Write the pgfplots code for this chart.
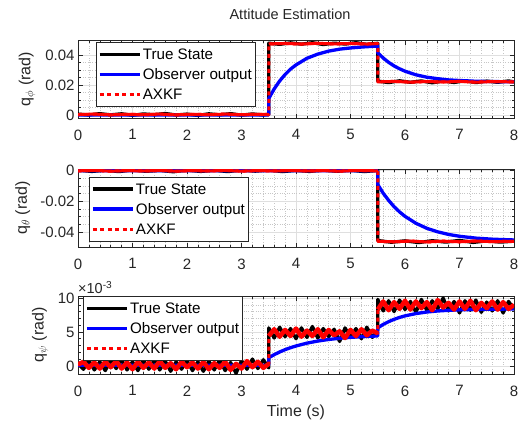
\documentclass[border=0pt]{standalone}
\usepackage{fontspec}
\setmainfont{Liberation Sans}
\usepackage{pgfplots}
\usepackage{pgfplotstable}
\pgfplotsset{compat=1.18}

\definecolor{axgray}{RGB}{38,38,38}

% q_phi
\pgfplotstableread{
t y
0 0.0006
0.2 0.0000
0.4 0.0009
0.6 0.0001
0.8 0.0008
1.0 -0.0002
1.2 0.0007
1.4 0.0002
1.6 0.0010
1.8 0.0000
2.0 0.0006
2.2 -0.0003
2.4 0.0008
2.6 0.0001
2.8 0.0009
3.0 -0.0001
3.2 0.0007
3.4 0.0000
3.5 0.0005
3.5 0.0479
3.7 0.0471
3.9 0.0481
4.1 0.0472
4.3 0.0482
4.5 0.0470
4.7 0.0479
4.9 0.0473
5.1 0.0482
5.3 0.0471
5.5 0.0478
5.5 0.0226
5.7 0.0216
5.9 0.0228
6.1 0.0218
6.3 0.0227
6.5 0.0215
6.7 0.0226
6.9 0.0217
7.1 0.0228
7.3 0.0216
7.5 0.0226
7.7 0.0218
7.9 0.0227
8.0 0.0221
}\phiTrue
\pgfplotstableread{
t y
0 0
3.5 0
3.5 0.011
3.6 0.0174
3.7 0.0227
3.8 0.0270
3.9 0.0306
4.0 0.0334
4.2 0.0378
4.4 0.0406
4.6 0.0426
4.8 0.0439
5.0 0.0447
5.2 0.0453
5.5 0.0460
5.5 0.0415
5.6 0.0380
5.7 0.0351
5.8 0.0327
5.9 0.0308
6.0 0.0292
6.2 0.0268
6.4 0.0252
6.6 0.0242
6.8 0.0234
7.0 0.0230
7.3 0.0225
7.6 0.0223
8.0 0.0221
}\phiObs
\pgfplotstableread{
t y ys
0 0.0003 0.0003
0.3 0.0006 0.0006
0.6 0.0001 0.0001
0.9 0.0005 0.0005
1.2 0.0002 0.0002
1.5 0.0006 0.0006
1.8 0.0001 0.0001
2.1 0.0005 0.0005
2.4 0.0002 0.0002
2.7 0.0006 0.0006
3.0 0.0002 0.0002
3.3 0.0005 0.0005
3.5 0.0003 0.0003
3.5 0.024 nan
3.5 0.0474 0.0474
3.8 0.0477 0.0477
4.1 0.0473 0.0473
4.4 0.0478 0.0478
4.7 0.0474 0.0474
5.0 0.0477 0.0477
5.3 0.0473 0.0473
5.5 0.0476 0.0476
5.5 0.035 nan
5.5 0.0221 0.0221
5.8 0.0224 0.0224
6.1 0.0219 0.0219
6.4 0.0223 0.0223
6.7 0.0220 0.0220
7.0 0.0224 0.0224
7.3 0.0219 0.0219
7.6 0.0223 0.0223
8.0 0.0221 0.0221
}\phiAxkf

% q_theta
\pgfplotstableread{
t y
0 0.0004
0.25 -0.0005
0.5 0.0003
0.75 -0.0006
1.0 0.0005
1.25 -0.0004
1.5 0.0002
1.75 -0.0007
2.0 0.0004
2.25 -0.0005
2.5 0.0003
2.75 -0.0006
3.0 0.0005
3.25 -0.0003
3.5 0.0004
3.75 -0.0006
4.0 0.0002
4.25 -0.0005
4.5 0.0004
4.75 -0.0004
5.0 0.0003
5.25 -0.0006
5.5 0.0002
5.5 -0.0456
5.75 -0.0467
6.0 -0.0458
6.25 -0.0469
6.5 -0.0457
6.75 -0.0466
7.0 -0.0455
7.25 -0.0468
7.5 -0.0458
7.75 -0.0466
8.0 -0.0460
}\thetaTrue
\pgfplotstableread{
t y
0 0
5.5 0
5.5 -0.0090
5.6 -0.0147
5.7 -0.0194
5.8 -0.0235
5.9 -0.0269
6.0 -0.0298
6.2 -0.0343
6.4 -0.0376
6.6 -0.0399
6.8 -0.0416
7.0 -0.0428
7.3 -0.0440
7.6 -0.0447
8.0 -0.0452
}\thetaObs
\pgfplotstableread{
t y ys
0 -0.0001 -0.0001
0.3 0.0002 0.0002
0.6 -0.0003 -0.0003
0.9 0.0001 0.0001
1.2 -0.0002 -0.0002
1.5 0.0002 0.0002
1.8 -0.0003 -0.0003
2.1 0.0001 0.0001
2.4 -0.0002 -0.0002
2.7 0.0002 0.0002
3.0 -0.0003 -0.0003
3.3 0.0001 0.0001
3.6 -0.0002 -0.0002
3.9 0.0002 0.0002
4.2 -0.0002 -0.0002
4.5 0.0001 0.0001
4.8 -0.0003 -0.0003
5.1 0.0002 0.0002
5.5 -0.0001 -0.0001
5.5 -0.023 nan
5.5 -0.0461 -0.0461
5.8 -0.0464 -0.0464
6.1 -0.0459 -0.0459
6.4 -0.0465 -0.0465
6.7 -0.0460 -0.0460
7.0 -0.0464 -0.0464
7.3 -0.0459 -0.0459
7.6 -0.0463 -0.0463
8.0 -0.0461 -0.0461
}\thetaAxkf

% q_psi, in units of 1e-3 rad
\pgfplotstableread{
t y
0 0.3
0.1 -0.5
0.2 0.8
0.3 -0.6
0.4 0.6
0.5 -0.7
0.6 0.8
0.7 -0.4
0.8 0.9
0.9 -0.6
1.0 0.6
1.1 -0.7
1.2 0.8
1.3 -0.5
1.4 0.9
1.5 -0.6
1.6 0.7
1.7 -0.8
1.8 0.6
1.9 -0.5
2.0 0.8
2.1 -0.7
2.2 0.6
2.3 -0.8
2.4 0.7
2.5 -0.6
2.6 0.9
2.7 -0.7
2.8 0.5
2.9 -1.1
3.0 0.8
3.1 -0.5
3.2 1.0
3.3 -0.4
3.4 0.9
3.5 -0.3
3.5 5.6
3.6 4.1
3.7 5.7
3.8 4.3
3.9 5.5
4.0 4.0
4.1 5.6
4.2 4.2
4.3 5.8
4.4 4.1
4.5 5.5
4.6 4.3
4.7 5.4
4.8 3.6
4.9 5.6
5.0 4.2
5.1 5.5
5.2 4.0
5.3 5.7
5.4 4.2
5.5 5.3
5.5 9.8
5.6 8.1
5.7 9.6
5.8 8.0
5.9 9.7
6.0 8.3
6.1 9.5
6.2 7.9
6.3 9.8
6.4 8.2
6.5 9.6
6.6 8.4
6.7 10.0
6.8 8.1
6.9 9.5
7.0 7.8
7.1 9.6
7.2 8.2
7.3 9.7
7.4 7.9
7.5 9.4
7.6 8.1
7.7 9.6
7.8 7.8
7.9 9.5
8.0 8.4
}\psiTrue
\pgfplotstableread{
t y
0 0.1
3.5 0.1
3.5 1.2
3.6 1.65
3.7 2.05
3.8 2.39
3.9 2.68
4.0 2.93
4.2 3.35
4.4 3.66
4.6 3.89
4.8 4.07
5.0 4.20
5.2 4.30
5.5 4.41
5.5 5.6
5.6 6.11
5.7 6.52
5.8 6.86
5.9 7.14
6.0 7.37
6.2 7.71
6.4 7.94
6.6 8.09
6.8 8.19
7.0 8.26
7.5 8.35
8.0 8.38
}\psiObs
\pgfplotstableread{
t y ys
0 0.2 0.2
0.1 0.6 0.6
0.2 -0.3 -0.3
0.3 0.5 0.5
0.4 -0.4 -0.4
0.5 0.6 0.6
0.6 -0.2 -0.2
0.7 0.7 0.7
0.8 -0.4 -0.4
0.9 0.5 0.5
1.0 -0.5 -0.5
1.1 0.6 0.6
1.2 -0.3 -0.3
1.3 0.5 0.5
1.4 -0.4 -0.4
1.5 0.7 0.7
1.6 -0.3 -0.3
1.7 0.4 0.4
1.8 -0.5 -0.5
1.9 0.6 0.6
2.0 -0.2 -0.2
2.1 0.5 0.5
2.2 -0.4 -0.4
2.3 0.6 0.6
2.4 -0.5 -0.5
2.5 0.4 0.4
2.6 -0.3 -0.3
2.7 0.6 0.6
2.8 -0.6 -0.6
2.9 0.3 0.3
3.0 -0.4 -0.4
3.1 0.7 0.7
3.2 -0.2 -0.2
3.3 0.6 0.6
3.4 -0.3 -0.3
3.5 0.3 0.3
3.5 2.4 nan
3.5 4.4 4.4
3.6 5.4 5.4
3.7 4.3 4.3
3.8 5.3 5.3
3.9 4.4 4.4
4.0 5.5 5.5
4.1 4.3 4.3
4.2 5.2 5.2
4.3 4.4 4.4
4.4 5.4 5.4
4.5 4.2 4.2
4.6 5.3 5.3
4.7 4.5 4.5
4.8 5.1 5.1
4.9 4.1 4.1
5.0 5.3 5.3
5.1 4.4 4.4
5.2 5.4 5.4
5.3 4.5 4.5
5.4 5.2 5.2
5.5 4.8 4.8
5.5 6.6 nan
5.5 8.3 8.3
5.6 9.5 9.5
5.7 8.2 8.2
5.8 9.4 9.4
5.9 8.4 8.4
6.0 9.6 9.6
6.1 8.3 8.3
6.2 9.5 9.5
6.3 8.5 8.5
6.4 9.4 9.4
6.5 8.2 8.2
6.6 9.7 9.7
6.7 8.6 8.6
6.8 9.3 9.3
6.9 8.3 8.3
7.0 9.5 9.5
7.1 8.4 8.4
7.2 9.6 9.6
7.3 8.2 8.2
7.4 9.3 9.3
7.5 8.5 8.5
7.6 9.5 9.5
7.7 8.3 8.3
7.8 9.4 9.4
7.9 8.4 8.4
8.0 9.0 9.0
}\psiAxkf

\pgfplotsset{
  matfig/.style={
    scale only axis, width=436pt, height=78pt,
    xmin=0, xmax=8, xtick={0,1,...,8},
    minor x tick num=4,
    grid=both,
    major grid style={gray!25, line width=0.5pt},
    minor grid style={gray!45, dotted, line width=0.5pt},
    axis line style={axgray, line width=0.6pt},
    tick style={axgray, line width=0.6pt},
    major tick length=4.5pt, minor tick length=2.5pt,
    tick label style={font=\fontsize{15}{17}\selectfont, text=axgray},
    xticklabel shift=8pt,
    /pgf/number format/assume math mode=true,
    scaled y ticks=false,
    label style={font=\fontsize{16}{18}\selectfont, text=axgray},
    unbounded coords=jump,
    clip mode=individual,
    every axis plot/.append style={line join=round},
    legend cell align=left,
    legend style={font=\fontsize{15.2}{17}\selectfont, draw=axgray,
      line width=0.6pt, fill=white, inner xsep=2pt, inner ysep=3pt,
      row sep=2pt,
      nodes={inner sep=1.5pt, text height=12.5pt, text depth=2.5pt}},
    legend image code/.code={\draw[#1] (0pt,0pt) -- (40pt,0pt);},
  },
  truestate/.style={black, line width=3.3pt},
  observer/.style={blue, line width=3.3pt},
  axkf/.style={red, line width=3pt, dash pattern=on 4pt off 3.5pt},
  axkfsolid/.style={red, line width=3pt, forget plot},
}

\begin{document}
\begin{tikzpicture}
\path[use as bounding box] (0pt,0pt) rectangle (530pt,-423pt);
\node[font=\fontsize{14.5}{16}\selectfont, text=axgray] at (290pt,-14.5pt) {Attitude Estimation};

\begin{axis}[matfig, at={(78pt,-118pt)}, anchor=south west,
  ymin=-0.002, ymax=0.05, ytick={0,0.02,0.04}, yticklabels={0,0.02,0.04},
  minor y tick num=3,
  ylabel={q$_\phi$ (rad)},
  ylabel style={at={(axis description cs:-0.117,0.5)}, anchor=center},
  legend style={at={(axis description cs:0.0406,0.97)}, anchor=north west}]
\addplot[truestate] table[x=t, y=y] {\phiTrue};
\addplot[observer] table[x=t, y=y] {\phiObs};
\addplot[axkf] table[x=t, y=y] {\phiAxkf};
\addplot[axkfsolid] table[x=t, y=ys] {\phiAxkf};
\legend{True State, Observer output, AXKF}
\end{axis}

\begin{axis}[matfig, at={(78pt,-247pt)}, anchor=south west,
  ymin=-0.0498, ymax=0.0011, ytick={-0.04,-0.02,0}, yticklabels={-0.04,-0.02,0},
  minor y tick num=3,
  ylabel={q$_\theta$ (rad)},
  ylabel style={at={(axis description cs:-0.127,0.5)}, anchor=center},
  legend style={at={(axis description cs:0.025,0.90)}, anchor=north west}]
\addplot[truestate] table[x=t, y=y] {\thetaTrue};
\addplot[observer] table[x=t, y=y] {\thetaObs};
\addplot[axkf] table[x=t, y=y] {\thetaAxkf};
\addplot[axkfsolid] table[x=t, y=ys] {\thetaAxkf};
\legend{True State, Observer output, AXKF}
\end{axis}

\begin{axis}[matfig, at={(78pt,-374pt)}, anchor=south west,
  ymin=-1.2, ymax=10.3, ytick={0,5,10}, yticklabels={0,5,10},
  minor y tick num=4,
  ylabel={q$_\psi$ (rad)},
  ylabel style={at={(axis description cs:-0.087,0.5)}, anchor=center},
  xlabel={Time (s)},
  xlabel style={at={(axis description cs:0.5,-0.49)}, anchor=center},
  legend style={at={(axis description cs:0.0115,1.0)}, anchor=north west}]
\addplot[truestate] table[x=t, y=y] {\psiTrue};
\addplot[observer] table[x=t, y=y] {\psiObs};
\addplot[axkf] table[x=t, y=y] {\psiAxkf};
\addplot[axkfsolid, line width=4.5pt] table[x=t, y=ys] {\psiAxkf};
\legend{True State, Observer output, AXKF}
\node[anchor=south west, inner sep=0pt, font=\fontsize{14.5}{16}\selectfont, text=axgray]
  at (axis description cs:0.0,1.03) {×10\textsuperscript{-3}};
\end{axis}
\end{tikzpicture}
\end{document}
